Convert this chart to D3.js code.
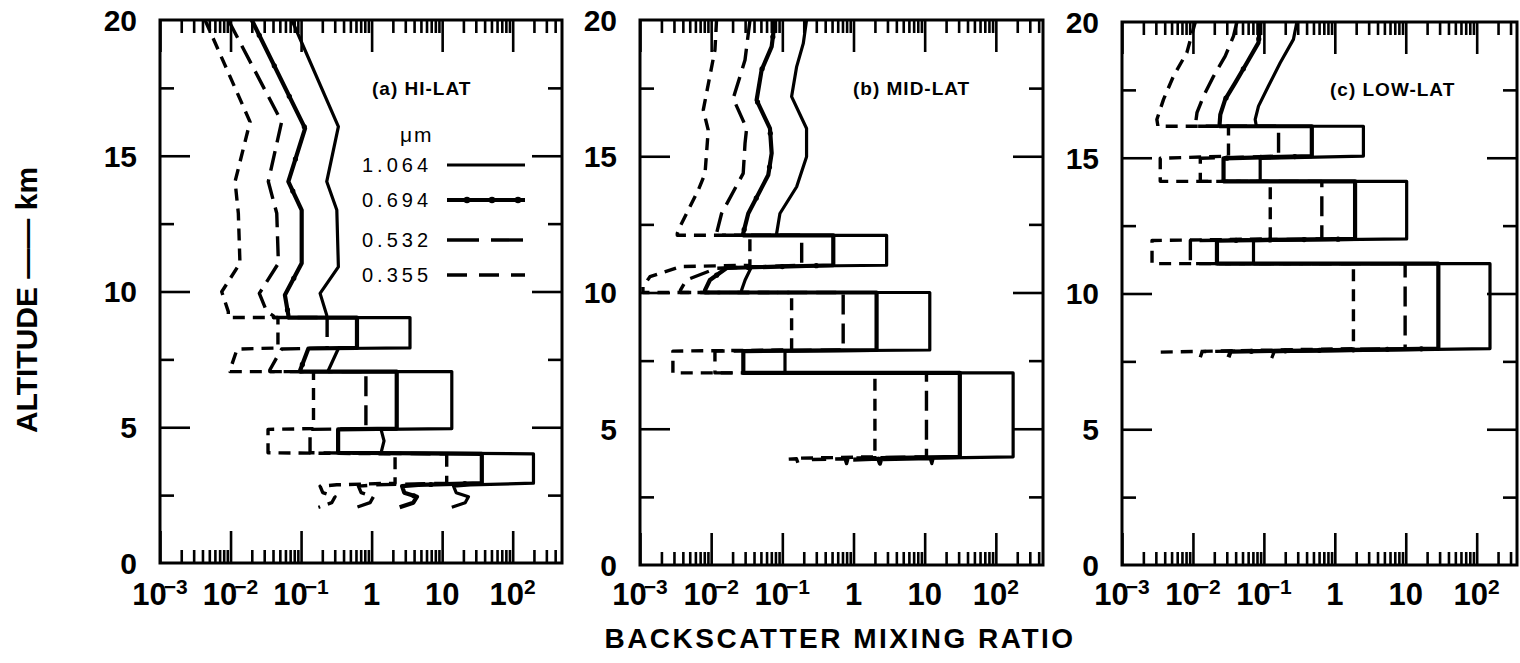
<!DOCTYPE html>
<html>
<head>
<meta charset="utf-8">
<title>Backscatter mixing ratio profiles</title>
<script src="https://cdn.jsdelivr.net/npm/d3@7/dist/d3.min.js"></script>
<style>
  html, body { margin: 0; padding: 0; background: #fff; }
  svg { display: block; }
  text { font-family: "Liberation Sans", Arial, sans-serif; fill: #000; }
</style>
</head>
<body>
<svg id="chart" width="1520" height="663"></svg>
<script>
// Wavelengths (µm), legend order
const wavelengths = ["1.064", "0.694", "0.532", "0.355"];
const panelTitles = ["(a) HI-LAT", "(b) MID-LAT", "(c) LOW-LAT"];
const decadeExponents = [-3, -2, -1, 0, 1, 2];
const altitudeLabels = [0, 5, 10, 15, 20];
const altitudeMajorTicks = [5, 10, 15];
const altitudeMinorTicks = [2.5, 7.5, 12.5, 17.5];

// Profiles: [backscatter mixing ratio, altitude km]
// (a) high latitude
const hiLat1064 = [[0.074,20],[0.338,16.07],[0.231,14.05],[0.321,13.0],[0.338,10.91],[0.186,9.93],[0.231,9.13],
  [0.231,9.04],[3.5,9.04],[3.5,7.92],[0.338,7.9],[0.244,7.1],[0.244,7.05],[13.7,7.05],[13.7,4.95],
  [1.36,4.92],[1.5,4.5],[1.36,4.06],[197,4.02],[197,2.94],
  [25,2.88],[14.5,2.83],[15.8,2.59],[23.6,2.44],[21.2,2.22],[13.7,2.05]];
const hiLat0694 = [[0.020,20],[0.114,16.01],[0.066,14.05],[0.102,13.0],[0.102,11.04],[0.059,9.87],[0.066,9.13],
  [0.066,9.04],[0.62,9.04],[0.62,7.92],[0.127,7.9],[0.097,7.1],[0.097,7.05],[2.27,7.05],[2.27,4.95],
  [0.335,4.92],[0.335,4.06],[36.5,4.02],[36.5,2.94],
  [4.6,2.88],[2.7,2.83],[2.9,2.59],[4.4,2.44],[3.9,2.22],[2.5,2.05]];
const hiLat0532 = [[0.0093,20],[0.053,16.25],[0.0343,14.05],[0.0452,12.88],[0.0477,11.04],[0.0256,9.93],[0.0326,9.26],[0.0405,9.1],
  [0.0405,9.04],[0.234,9.04],[0.234,7.92],[0.053,7.88],[0.036,7.11],[0.036,7.05],[0.83,7.05],[0.83,4.95],
  [0.134,4.92],[0.134,4.06],[11.6,4.02],[11.6,2.94],
  [1.12,2.88],[0.65,2.83],[0.71,2.59],[1.06,2.44],[0.95,2.22],[0.61,2.05]];
const hiLat0355 = [[0.00435,20],[0.0189,16.25],[0.0116,14.05],[0.0129,12.88],[0.0136,11.04],[0.0075,9.99],[0.0093,9.26],
  [0.0093,9.04],[0.047,9.04],[0.047,7.92],[0.0124,7.88],[0.0098,7.1],[0.0098,7.05],[0.150,7.05],[0.150,4.95],
  [0.034,4.92],[0.034,4.06],[2.15,4.02],[2.15,2.94],
  [0.321,2.88],[0.186,2.83],[0.203,2.59],[0.303,2.44],[0.272,2.22],[0.176,2.05]];

// (b) mid latitude
const midLat1064 = [[0.219,20],[0.197,19.14],[0.159,18.29],[0.135,17.19],[0.219,16.02],[0.219,14.98],[0.159,13.88],[0.0925,12.9],[0.0832,12.17],
  [0.0832,12.1],[2.92,12.1],[2.92,11.0],[0.037,10.95],[0.030,10.46],[0.0268,10.09],
  [0.0268,10.0],[11.8,10.0],[11.8,7.89],[0.109,7.85],[0.109,7.13],
  [0.109,7.05],[175,7.05],[175,3.97],[13.2,3.92],[12.6,3.72],[12.0,3.9],[2.6,3.87]];
const midLat0694 = [[0.0787,20],[0.0708,19.02],[0.0512,18.17],[0.0435,17.06],[0.067,16.02],[0.0708,15.11],[0.0634,14.31],[0.0332,12.9],[0.0282,12.17],
  [0.0282,12.1],[0.52,12.1],[0.52,11.0],[0.0165,10.9],[0.0096,10.46],[0.0082,10.09],
  [0.0082,10.0],[2.11,10.0],[2.11,7.89],[0.0283,7.85],[0.0283,7.13],
  [0.0283,7.05],[31.2,7.05],[31.2,3.97],[2.47,3.92],[2.35,3.72],[2.23,3.9],[0.99,3.87]];
const midLat0532 = [[0.0351,20],[0.0299,18.53],[0.0204,17.12],[0.0315,16.02],[0.0299,15.47],[0.0282,14.37],[0.0140,12.9],[0.0119,12.17],
  [0.0119,12.1],[0.187,12.1],[0.187,11.0],[0.0119,10.89],[0.0045,10.46],[0.0037,10.09],
  [0.0037,10.0],[0.716,10.0],[0.716,7.89],[0.0113,7.85],[0.0113,7.13],
  [0.0113,7.05],[10.6,7.05],[10.6,3.97],[0.84,3.92],[0.80,3.72],[0.76,3.9],[0.26,3.87]];
const midLat0355 = [[0.0119,20],[0.0113,18.9],[0.00775,16.7],[0.0091,15.96],[0.0082,14.37],[0.0066,13.76],[0.00365,12.42],[0.00334,12.17],
  [0.00334,12.1],[0.035,12.1],[0.035,11.0],[0.0037,10.95],[0.00138,10.58],[0.0011,10.21],
  [0.0011,10.0],[0.135,10.0],[0.135,7.89],[0.0029,7.85],[0.0029,7.13],
  [0.0029,7.05],[2.0,7.05],[2.0,3.97],[0.175,3.92],[0.167,3.72],[0.158,3.9],[0.098,3.87]];

// (c) low latitude
const lowLat1064 = [[0.292,20],[0.261,19.36],[0.170,18.5],[0.116,17.64],[0.084,16.9],[0.0754,16.41],[0.078,16.19],
  [0.078,16.16],[2.53,16.16],[2.53,15.06],[0.0887,14.98],[0.0887,14.19],
  [0.0887,14.13],[10.3,14.13],[10.3,12.01],[0.0714,11.95],[0.0714,11.12],
  [0.0714,11.1],[154,11.1],[154,7.97],[0.14,7.86],[0.129,7.62]];
const lowLat0694 = [[0.0887,20],[0.0840,19.24],[0.0577,18.5],[0.0394,17.76],[0.0285,17.15],[0.0243,16.59],[0.0237,16.19],
  [0.0237,16.16],[0.474,16.16],[0.474,15.06],[0.027,14.98],[0.027,14.19],
  [0.027,14.13],[1.93,14.13],[1.93,12.01],[0.0218,11.95],[0.0218,11.12],
  [0.0218,11.1],[28.8,11.1],[28.8,7.97],[0.034,7.86],[0.0317,7.65]];
const lowLat0532 = [[0.0417,20],[0.0373,19.48],[0.0285,18.74],[0.0195,18.0],[0.0141,17.27],[0.0114,16.66],[0.0108,16.19],
  [0.0108,16.16],[0.161,16.16],[0.161,15.06],[0.0127,14.98],[0.0127,14.19],
  [0.0127,14.13],[0.656,14.13],[0.656,12.01],[0.0092,11.95],[0.0092,11.12],
  [0.0092,11.1],[9.8,11.1],[9.8,7.97],[0.0135,7.86],[0.0127,7.65]];
const lowLat0355 = [[0.0108,20],[0.0082,18.87],[0.0053,18.0],[0.00385,17.15],[0.0031,16.41],[0.0032,16.19],
  [0.0032,16.16],[0.0317,16.16],[0.0317,15.06],[0.00346,14.98],[0.00346,14.19],
  [0.00346,14.13],[0.123,14.13],[0.123,12.01],[0.00265,11.95],[0.00265,11.12],
  [0.00265,11.1],[1.83,11.1],[1.83,7.97],[0.0033,7.84],[0.0033,7.68]];

// Frame geometry and right-hand axis limit of each panel
const panelLayout = [
  { left: 160,  right: 562,  top: 20, bottom: 563, xMax: 500, titleX: 372,  titleY: 95 },
  { left: 640,  right: 1043, top: 20, bottom: 565, xMax: 460, titleX: 853,  titleY: 95 },
  { left: 1122, right: 1517, top: 22, bottom: 565, xMax: 370, titleX: 1330, titleY: 96 }
];
const panelSeries = [
  [hiLat1064, hiLat0694, hiLat0532, hiLat0355],
  [midLat1064, midLat0694, midLat0532, midLat0355],
  [lowLat1064, lowLat0694, lowLat0532, lowLat0355]
];

// Line style per wavelength (same order as wavelengths)
const seriesStyle = [
  { width: 3.2, dash: null,   dots: false },
  { width: 4.2, dash: null,   dots: true  },
  { width: 3.4, dash: "20,9", dots: false },
  { width: 3.4, dash: "12,8", dots: false }
];

const svg = d3.select("#chart");
const ink = "#000";

// Beads along the slanted stretches of a polyline (screen coordinates)
function beadSlants(g, pts, spacing, r) {
  let carry = spacing / 2;
  for (let j = 1; j < pts.length; j++) {
    const [x0, y0] = pts[j - 1], [x1, y1] = pts[j];
    const dx = x1 - x0, dy = y1 - y0;
    const len = Math.hypot(dx, dy);
    if (Math.abs(dx) < 1.5 || Math.abs(dy) < 1.5) { carry = spacing / 2; continue; }
    let s = carry;
    while (s < len) {
      g.append("circle").attr("cx", x0 + dx * s / len).attr("cy", y0 + dy * s / len)
        .attr("r", r).attr("fill", ink);
      s += spacing;
    }
    carry = s - len;
  }
}

function decadeLabel(sel, e) {
  if (e === 0) { sel.text("1"); return; }
  if (e === 1) { sel.text("10"); return; }
  sel.append("tspan").text("10");
  sel.append("tspan").attr("font-size", 21).attr("dy", -11).attr("dx", e < 0 ? -3 : 0)
     .text(e < 0 ? "\u2212" + (-e) : String(e));
}

panelLayout.forEach((L, i) => {
  const g = svg.append("g");
  const x = d3.scaleLog().domain([1e-3, L.xMax]).range([L.left, L.right]);
  const y = d3.scaleLinear().domain([0, 20]).range([L.bottom, L.top]);

  const majors = decadeExponents.map(e => Math.pow(10, e));
  const minors = [];
  decadeExponents.forEach(e => {
    for (let k = 2; k <= 9; k++) {
      const v = k * Math.pow(10, e);
      if (v < L.xMax * 0.97) minors.push(v);
    }
  });

  const axes = g.append("g").attr("class", "axes");
  const addAxis = (axis, tx, ty) => {
    const a = axes.append("g").attr("transform", `translate(${tx},${ty})`).call(axis);
    a.select(".domain").remove();
    a.selectAll(".tick line").attr("stroke", ink).attr("stroke-width", 2.6);
    a.selectAll(".tick text").remove();
  };
  addAxis(d3.axisBottom(x).tickValues(minors).tickSize(-13).tickFormat(""), 0, L.bottom);
  addAxis(d3.axisBottom(x).tickValues(majors).tickSize(-32).tickFormat(""), 0, L.bottom);
  addAxis(d3.axisTop(x).tickValues(minors).tickSize(-13).tickFormat(""), 0, L.top);
  addAxis(d3.axisTop(x).tickValues(majors).tickSize(-32).tickFormat(""), 0, L.top);
  addAxis(d3.axisLeft(y).tickValues(altitudeMajorTicks).tickSize(-30).tickFormat(""), L.left, 0);
  addAxis(d3.axisLeft(y).tickValues(altitudeMinorTicks).tickSize(-14).tickFormat(""), L.left, 0);
  addAxis(d3.axisRight(y).tickValues(altitudeMajorTicks).tickSize(-30).tickFormat(""), L.right, 0);
  addAxis(d3.axisRight(y).tickValues(altitudeMinorTicks).tickSize(-14).tickFormat(""), L.right, 0);

  g.append("rect")
    .attr("x", L.left).attr("y", L.top)
    .attr("width", L.right - L.left).attr("height", L.bottom - L.top)
    .attr("fill", "none").attr("stroke", ink).attr("stroke-width", 3);

  // altitude labels
  g.selectAll(".ylab").data(altitudeLabels).join("text")
    .attr("class", "ylab")
    .attr("x", L.left - 23).attr("y", d => y(d)).attr("dy", "0.36em")
    .attr("text-anchor", "end").attr("font-size", 30).attr("font-weight", "bold")
    .text(d => d);

  // decade labels
  decadeExponents.forEach(e => {
    const t = g.append("text")
      .attr("x", x(Math.pow(10, e))).attr("y", 605)
      .attr("text-anchor", "middle").attr("font-size", 31).attr("font-weight", "bold");
    decadeLabel(t, e);
  });

  // profiles, shortest wavelength first so solid lines sit on top
  const line = d3.line().x(d => x(d[0])).y(d => y(d[1])).curve(d3.curveLinear);
  const series = panelSeries[i];
  [3, 2, 1, 0].forEach(k => {
    const st = seriesStyle[k];
    g.append("path").datum(series[k])
      .attr("d", line)
      .attr("fill", "none").attr("stroke", ink)
      .attr("stroke-width", st.width)
      .attr("stroke-linejoin", "round").attr("stroke-linecap", "butt")
      .attr("stroke-dasharray", st.dash);
    if (st.dots) beadSlants(g, series[k].map(d => [x(d[0]), y(d[1])]), 34, 2.6);
  });

  g.append("text")
    .attr("x", L.titleX).attr("y", L.titleY)
    .attr("font-size", 19).attr("font-weight", "bold").attr("letter-spacing", 1)
    .text(panelTitles[i]);
});

// legend inside panel (a)
const legend = svg.append("g");
legend.append("text").attr("x", 400).attr("y", 142)
  .attr("font-size", 21).attr("letter-spacing", 2).text("\u03bcm");
const legendRows = [172, 207, 247, 282];
wavelengths.forEach((w, k) => {
  const yy = legendRows[k];
  legend.append("text").attr("x", 362).attr("y", yy)
    .attr("font-size", 20).attr("letter-spacing", 4).text(w);
  const st = seriesStyle[k];
  legend.append("path")
    .attr("d", d3.line()([[447, yy - 7], [525, yy - 7]]))
    .attr("stroke", ink).attr("stroke-width", st.width)
    .attr("stroke-dasharray", st.dash ? (k === 2 ? "32,12" : "20,12") : null);
  if (st.dots) {
    [467, 492, 518].forEach(cx => legend.append("circle")
      .attr("cx", cx).attr("cy", yy - 7).attr("r", 3.3).attr("fill", ink));
  }
});

// axis titles
svg.append("text")
  .attr("x", 840).attr("y", 648)
  .attr("text-anchor", "middle").attr("font-size", 28).attr("font-weight", "bold")
  .attr("letter-spacing", 2.5)
  .text("BACKSCATTER  MIXING  RATIO");

svg.append("text")
  .attr("transform", "translate(37,300) rotate(-90)")
  .attr("text-anchor", "middle").attr("font-size", 30).attr("font-weight", "bold")
  .text("ALTITUDE \u2014\u2014 km");
</script>
</body>
</html>
